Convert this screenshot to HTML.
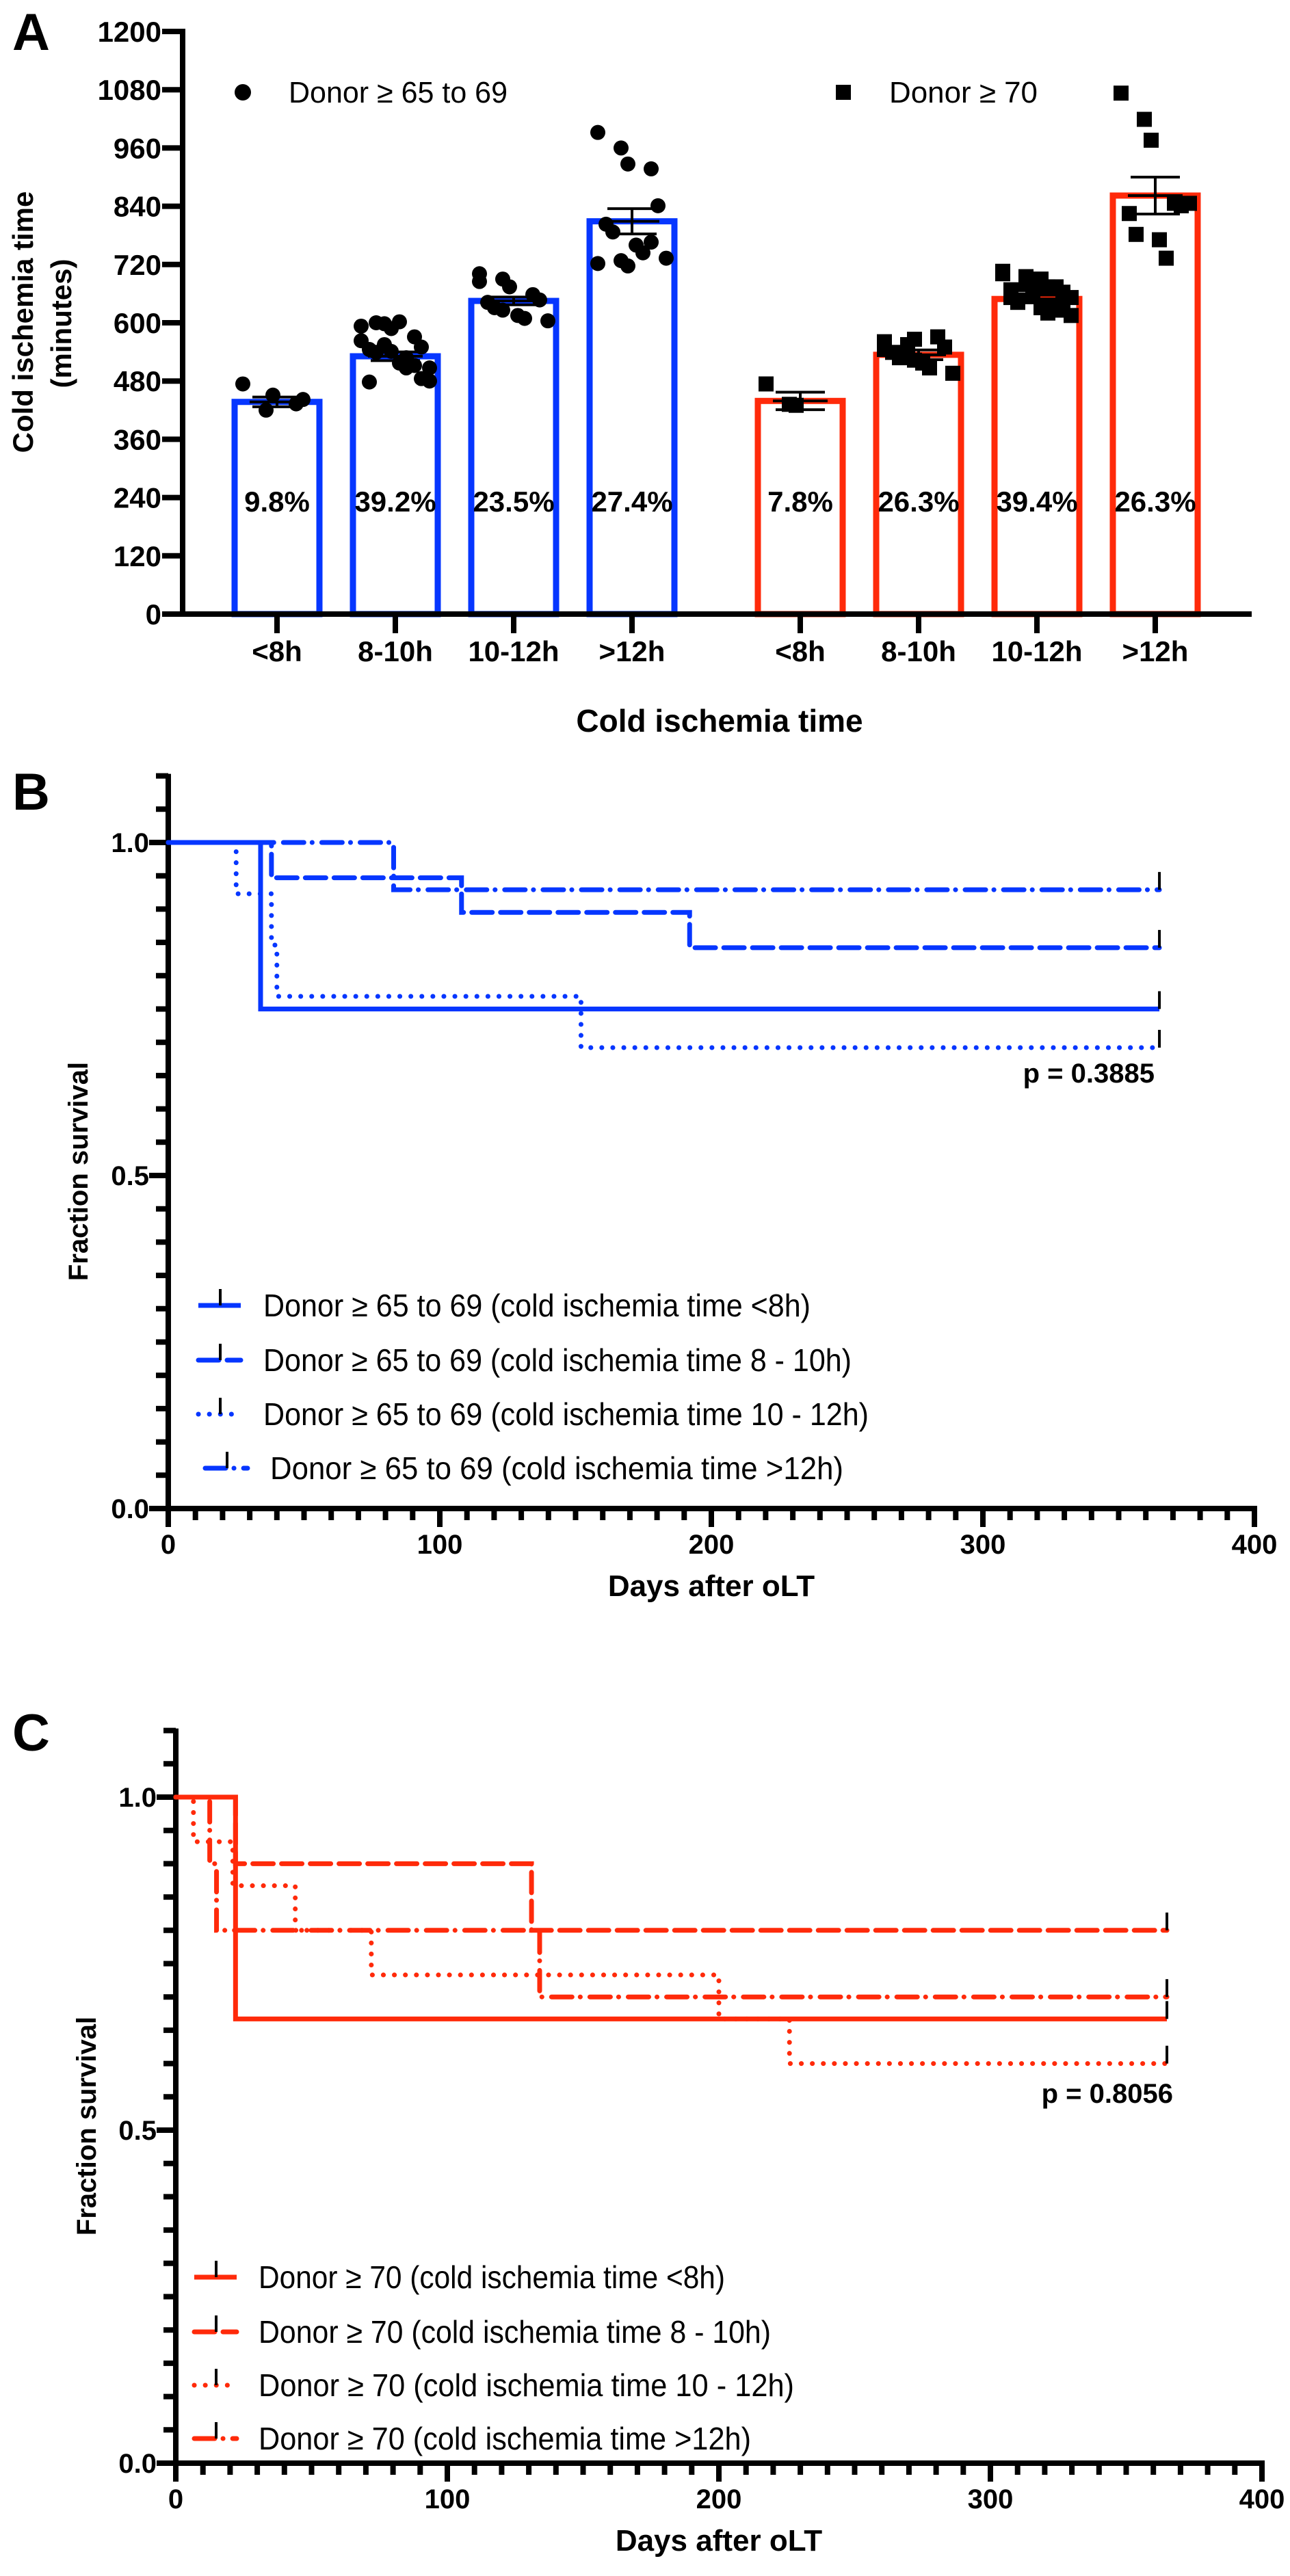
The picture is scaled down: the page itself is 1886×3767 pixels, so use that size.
<!DOCTYPE html>
<html><head><meta charset="utf-8"><style>
html,body{margin:0;padding:0;background:#fff;}
svg{display:block;}
text{font-family:"Liberation Sans Narrow","Liberation Sans",Arial,sans-serif;}
</style></head>
<body>
<svg id="fig" xmlns="http://www.w3.org/2000/svg" width="1886" height="3767" viewBox="0 0 1886 3767">
<rect x="0" y="0" width="1886" height="3767" fill="#fff"/>
<text x="18" y="73" font-size="76" font-weight="bold" font-family="Liberation Sans">A</text>
<text x="18" y="1184" font-size="76" font-weight="bold" font-family="Liberation Sans">B</text>
<text x="18" y="2560" font-size="76" font-weight="bold" font-family="Liberation Sans">C</text>
<g id="A"></g>
<g id="B"></g>
<g id="C"></g>
</svg>
<script>
// ---------- Panel A data ----------
const aCategories = ["<8h","8-10h","10-12h",">12h","<8h","8-10h","10-12h",">12h"];
const aGroups = ["blue","blue","blue","blue","red","red","red","red"];
const aMeans = [437,531,645,809,439,534,649,862];
const aSem = [10,9,8,26,18,10,8,38];
const aPercents = ["9.8%","39.2%","23.5%","27.4%","7.8%","26.3%","39.4%","26.3%"];
const aYTicks = [0,120,240,360,480,600,720,840,960,1080,1200];
const aPts0 = [474,420,451,433,442];
const aPts1 = [563,598,588,571,550,545,539,517,507,480,593,555,541,512,485,478,600,602,528,507];
const aPts2 = [701,690,674,658,647,642,631,615,609,604,685,626];
const aPts3 = [992,960,927,917,841,803,787,760,744,733,722,728,717,766];
const aPts4 = [474,432,430];
const aPts5 = [561,555,566,571,550,539,528,517,507,496,545,534,523];
const aPts6 = [706,695,685,674,663,652,642,631,620,615,701,679,658,636,626,668,647,690,674,652];
const aPts7 = [1073,1019,976,846,841,825,782,771,733,846];
const aPoints = [aPts0,aPts1,aPts2,aPts3,aPts4,aPts5,aPts6,aPts7];

// ---------- Panel B data (days of drops, survival after drop) ----------
const bSolidT = [34], bSolidS = [0.75];
const bDashT = [38,108,192], bDashS = [0.947,0.895,0.842];
const bDotT = [25,38,40,152], bDotS = [0.923,0.846,0.769,0.692];
const bDashDotT = [83], bDashDotS = [0.929];
const bEnd = 365;
const bXTicks = [0,100,200,300,400];
const bYTicks = [0,0.5,1.0];
const bLegend = ["Donor ≥ 65 to 69  (cold ischemia time <8h)","Donor ≥ 65 to 69  (cold ischemia time 8 - 10h)","Donor ≥ 65 to 69  (cold ischemia time 10 - 12h)","Donor ≥ 65 to 69  (cold ischemia time >12h)"];

// ---------- Panel C data ----------
const cSolidT = [22], cSolidS = [0.667];
const cDashT = [22,131], cDashS = [0.9,0.8];
const cDotT = [6.5,21,44,72,200,226], cDotS = [0.933,0.867,0.8,0.733,0.667,0.6];
const cDashDotT = [12.5,15,134], cDashDotS = [0.9,0.8,0.7];
const cEnd = 365;
const cXTicks = [0,100,200,300,400];
const cYTicks = [0,0.5,1.0];
const cLegend = ["Donor ≥ 70 (cold ischemia time <8h)","Donor ≥ 70 (cold ischemia time 8 - 10h)","Donor ≥ 70 (cold ischemia time 10 - 12h)","Donor ≥ 70 (cold ischemia time >12h)"];

const NS="http://www.w3.org/2000/svg";
const BLUE="#0636ff", RED="#ff2a0a";
function mk(tag,attrs,parent){const e=document.createElementNS(NS,tag);for(const k in attrs)e.setAttribute(k,attrs[k]);parent.appendChild(e);return e;}
function txt(parent,x,y,s,size,anchor,extra){const e=mk('text',Object.assign({x:x,y:y,'font-size':size,'font-weight':'bold','text-anchor':anchor||'start'},extra||{}),parent);e.textContent=s;return e;}

// ===== Panel A =====
(function(){
const g=document.getElementById('A');
const X0=267, Y0=898, Y1200=46, XEND=1830;
const ys=v=>Y0-(v/1200)*(Y0-Y1200);
const centers=[405,578,751,924,1170,1343,1516,1689];
// bars
aMeans.forEach((m,i)=>{
  const c=centers[i];
  const r=mk('rect',{x:c-62,y:ys(m),width:124,height:Y0-ys(m),fill:'none',stroke:aGroups[i]==='blue'?BLUE:RED,'stroke-width':9},g);
  
  
});
// points
aPoints.forEach((arr,i)=>{
  const c=centers[i];
  arr.forEach((v,j)=>{
    const off=((j%5)-2)*22+((j%2)?6:-6);
    let e;
    if(aGroups[i]==='blue'){e=mk('circle',{cx:c+off,cy:ys(v),r:11,fill:'#000'},g);}
    else{e=mk('rect',{x:c+off-11,y:ys(v)-11,width:22,height:22,fill:'#000'},g);}
    
    
  });
});
// error bars
aMeans.forEach((m,i)=>{
  const c=centers[i];
  const eg=mk('g',{stroke:'#000','stroke-width':4},g);
  
  
  mk('line',{x1:c,x2:c,y1:ys(m-aSem[i]),y2:ys(m+aSem[i])},eg);
  mk('line',{x1:c-36,x2:c+36,y1:ys(m+aSem[i]),y2:ys(m+aSem[i])},eg);
  mk('line',{x1:c-36,x2:c+36,y1:ys(m-aSem[i]),y2:ys(m-aSem[i])},eg);
  mk('line',{x1:c-40,x2:c+40,y1:ys(m),y2:ys(m)},eg);
});
// percent labels
aPercents.forEach((p,i)=>{
  const t=txt(g,centers[i],748,p,42,'middle');
  
  
});
// axes
const ax=mk('g',{stroke:'#000','stroke-width':8,fill:'none'},g);


mk('line',{x1:X0,x2:X0,y1:Y1200-4,y2:Y0+4},ax);
mk('line',{x1:X0-4,x2:XEND,y1:Y0,y2:Y0},ax);
aYTicks.forEach(v=>{
  mk('line',{x1:X0-30,x2:X0,y1:ys(v),y2:ys(v)},ax);
  const t=txt(g,236,ys(v)+15,String(v),42,'end');
  
  
});
centers.forEach((c,i)=>{
  mk('line',{x1:c,x2:c,y1:Y0,y2:926},ax);
  const t=txt(g,c,967,aCategories[i],42,'middle');
  
  
});
const xt=txt(g,1052,1070,'Cold ischemia time',46,'middle');


const yt=txt(g,0,0,'Cold ischemia time',42,'middle',{transform:'translate(48,471) rotate(-90)','font-family':'Liberation Sans'});


const yt2=txt(g,0,0,'(minutes)',42,'middle',{transform:'translate(104,473) rotate(-90)','font-family':'Liberation Sans'});


// legend
const l1=mk('circle',{cx:355,cy:135,r:12,fill:'#000'},g);


const lt1=mk('text',{x:422,y:150,'font-size':44,textLength:320,lengthAdjust:'spacingAndGlyphs','font-family':'Liberation Serif'},g);
lt1.textContent='Donor ≥ 65 to 69';


const l2=mk('rect',{x:1222,y:124,width:22,height:22,fill:'#000'},g);


const lt2=mk('text',{x:1300,y:150,'font-size':44,textLength:217,lengthAdjust:'spacingAndGlyphs','font-family':'Liberation Serif'},g);
lt2.textContent='Donor ≥ 70';


})();

// ===== KM panels =====
const STYLES={solid:'none',dash:'30 12',dot:'0.1 16',dashdot:'30 12 0.1 14'};
function km(gid,cfg){
  const g=document.getElementById(gid);
  const X0=cfg.x0, XD=3.97, Y1=cfg.y1, Y0v=Y1+974;
  const xs=d=>X0+d*XD, ys=s=>Y0v-s*(Y0v-Y1);
  const col=cfg.color;
  // axes
  const ax=mk('g',{stroke:'#000','stroke-width':8,fill:'none'},g);
  
  
  mk('line',{x1:X0,x2:X0,y1:ys(1.1)-3,y2:Y0v+27},ax);
  mk('line',{x1:X0,x2:xs(400)+4,y1:Y0v,y2:Y0v},ax);
  for(let k=0;k<=22;k++){const s=k*0.05;const major=(k%10===0);mk('line',{x1:X0-(major?28:18),x2:X0,y1:ys(s),y2:ys(s)},ax);}
  for(let d=10;d<=400;d+=10){const major=(d%100===0);mk('line',{x1:xs(d),x2:xs(d),y1:Y0v,y2:Y0v+(major?27:17)},ax);}
  cfg.yTicks.forEach(v=>{const t=txt(g,X0-28,ys(v)+14,v.toFixed(1),40,'end');
    
    });
  cfg.xTicks.forEach(v=>{const t=txt(g,xs(v),Y0v+66,String(v),40,'middle');
    
    });
  const xt=txt(g,xs(200),Y0v+128,'Days after oLT',44,'middle');
  
  
  const yt=txt(g,0,0,'Fraction survival',40,'middle',{transform:'translate('+(cfg.ylx)+','+(ys(0.5)-6)+') rotate(-90)','font-family':'Liberation Sans'});
  
  
  // curves
  cfg.series.forEach((sr,i)=>{
    let d='M'+xs(0)+' '+ys(1);
    let prev=1;
    sr.t.forEach((t,j)=>{d+=' H'+xs(t)+' V'+ys(sr.s[j]);prev=sr.s[j];});
    d+=' H'+xs(cfg.end);
    const attrs={d:d,fill:'none',stroke:col,'stroke-width':7,'stroke-linecap':sr.style==='solid'?'butt':'round'};
    if(sr.style!=='solid')attrs['stroke-dasharray']=STYLES[sr.style];
    const p=mk('path',attrs,g);
    
    
    const c=mk('line',{x1:xs(cfg.end),x2:xs(cfg.end),y1:ys(prev),y2:ys(prev)-26,stroke:'#000','stroke-width':4},g);
    
    
    // legend
    const ly=cfg.legY[i], lx=cfg.legX[i];
    const la={d:'M'+lx+' '+ly+' H'+(lx+62),fill:'none',stroke:col,'stroke-width':7,'stroke-linecap':sr.style==='solid'?'butt':'round'};
    if(sr.style!=='solid')la['stroke-dasharray']=STYLES[sr.style];
    const lg=mk('path',la,g);
    
    
    mk('line',{x1:lx+32,x2:lx+32,y1:ly,y2:ly-24,stroke:'#000','stroke-width':4},g);
    const lt=mk('text',{x:cfg.legTX[i],y:ly+16,'font-size':46,textLength:cfg.legW[i],lengthAdjust:'spacingAndGlyphs'},g);
    lt.textContent=cfg.legend[i];
    
    
  });
  const pt=txt(g,cfg.pX,cfg.pY,cfg.p,40,'end');
  
  
}
km('B',{x0:246,y1:1232,color:BLUE,end:bEnd,xTicks:bXTicks,yTicks:bYTicks,ylx:128,
  series:[{name:'lt8h',style:'solid',t:bSolidT,s:bSolidS},{name:'8-10h',style:'dash',t:bDashT,s:bDashS},{name:'10-12h',style:'dot',t:bDotT,s:bDotS},{name:'gt12h',style:'dashdot',t:bDashDotT,s:bDashDotS}],
  legend:bLegend,legY:[1909,1989,2068,2147],legX:[290,290,290,300],legTX:[385,385,385,395],legW:[800,860,885,838],
  p:'p = 0.3885',pX:1688,pY:1583});
km('C',{x0:257,y1:2628,color:RED,end:cEnd,xTicks:cXTicks,yTicks:cYTicks,ylx:140,
  series:[{name:'lt8h',style:'solid',t:cSolidT,s:cSolidS},{name:'8-10h',style:'dash',t:cDashT,s:cDashS},{name:'10-12h',style:'dot',t:cDotT,s:cDotS},{name:'gt12h',style:'dashdot',t:cDashDotT,s:cDashDotS}],
  legend:cLegend,legY:[3330,3410,3488,3566],legX:[284,284,284,284],legTX:[378,378,378,378],legW:[682,749,783,720],
  p:'p = 0.8056',pX:1715,pY:3075});
</script>
</body></html>
